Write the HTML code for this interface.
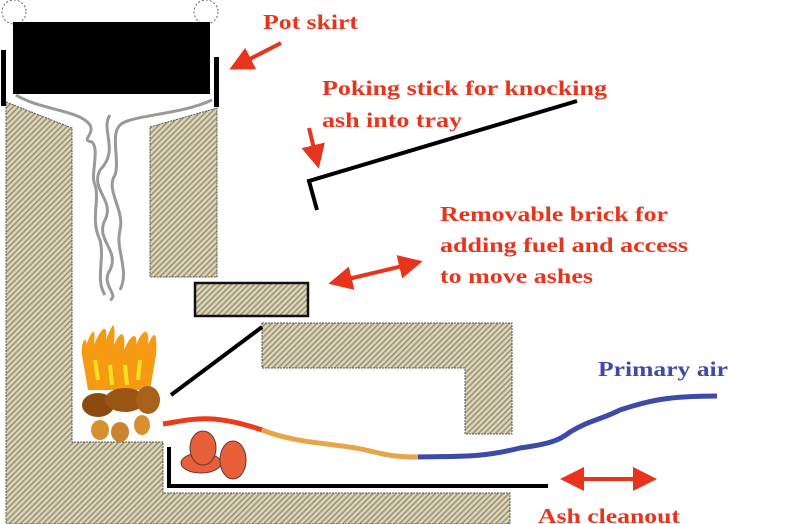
<!DOCTYPE html>
<html><head><meta charset="utf-8"><style>
html,body{margin:0;padding:0;background:#fff;width:800px;height:524px;overflow:hidden}
text{font-family:"Liberation Serif",serif;font-weight:bold;font-size:21px}
</style></head><body>
<svg width="800" height="524" viewBox="0 0 800 524" xmlns="http://www.w3.org/2000/svg">
<defs>
<pattern id="h" width="4" height="4" patternUnits="userSpaceOnUse" patternTransform="rotate(45)">
<rect width="4" height="4" fill="#ddd6b8"/><rect width="1.6" height="4" fill="#9a9278"/>
</pattern>
<marker id="a" markerWidth="6" markerHeight="6" refX="3" refY="3" orient="auto" markerUnits="strokeWidth"><path d="M0,0 L6,3 L0,6 z" fill="#e8341c"/></marker>
<marker id="b" markerWidth="6" markerHeight="6" refX="3" refY="3" orient="auto-start-reverse" markerUnits="strokeWidth"><path d="M0,0 L6,3 L0,6 z" fill="#e8341c"/></marker>
</defs>
<path d="M6,102 L72,128 L72,442 L163,442 L163,493 L510,493 L510,524 L6,524 Z" fill="url(#h)" stroke="#555" stroke-width="1" stroke-dasharray="2,1"/>
<path d="M150,127 L217,108 L217,277 L150,277 Z" fill="url(#h)" stroke="#555" stroke-width="1" stroke-dasharray="2,1"/>
<rect x="195" y="283" width="113" height="33" fill="url(#h)" stroke="#111" stroke-width="2.5"/>
<path d="M262,323 L512,323 L512,434 L465,434 L465,368 L262,368 Z" fill="url(#h)" stroke="#555" stroke-width="1" stroke-dasharray="2,1"/>
<circle cx="14" cy="12" r="12" fill="none" stroke="#666" stroke-dasharray="2,2"/>
<circle cx="206" cy="12" r="12" fill="none" stroke="#666" stroke-dasharray="2,2"/>
<rect x="13" y="22" width="197" height="72" fill="#000"/>
<rect x="1" y="50" width="5" height="56" fill="#000"/>
<rect x="214" y="57" width="5" height="50" fill="#000"/>
<g fill="none" stroke="#999" stroke-width="3">
<path d="M16,95 C40,110 80,110 90,125 C95,135 80,140 92,142 C100,150 90,175 95,185 C100,200 90,220 100,240 C105,260 95,280 105,295"/>
<path d="M212,100 C180,115 130,115 120,125 C110,135 120,160 115,175 C105,190 125,210 120,230 C115,250 130,270 120,290"/>
<path d="M110,115 C100,130 120,150 100,170 C90,190 115,200 105,220 C95,240 120,250 110,270 C100,285 120,295 110,300"/>
</g>
<g>
<path d="M82,355 C80,340 88,335 86,345 C92,330 96,325 94,345 C100,330 108,320 106,340 C112,325 116,315 114,345 C120,330 126,330 124,350 C130,335 138,330 136,345 C142,330 150,325 148,345 C152,335 158,325 156,355 L150,390 L88,390 Z" fill="#f59a12"/>
<path d="M95,360 L98,380 M110,365 L112,385 M125,365 L127,385 M140,360 L138,380" stroke="#ffe020" stroke-width="4"/>
<ellipse cx="98" cy="405" rx="16" ry="12" fill="#8a4a10"/>
<ellipse cx="125" cy="400" rx="20" ry="12" fill="#9a5514"/>
<ellipse cx="148" cy="400" rx="12" ry="14" fill="#a8621c"/>
<ellipse cx="100" cy="430" rx="9" ry="10" fill="#d8902f"/>
<ellipse cx="120" cy="432" rx="9" ry="10" fill="#c98530"/>
<ellipse cx="142" cy="425" rx="8" ry="10" fill="#d8902f"/>
</g>
<ellipse cx="201" cy="463" rx="20" ry="10" fill="#e8603a" stroke="#633" stroke-width="1"/>
<ellipse cx="203" cy="448" rx="13" ry="17" fill="#e8603a" stroke="#633" stroke-width="1"/>
<ellipse cx="233" cy="460" rx="13" ry="19" fill="#e8603a" stroke="#633" stroke-width="1"/>
<path d="M171,395 L262,327" stroke="#000" stroke-width="4"/>
<path d="M169,447 L169,486 L548,486" fill="none" stroke="#000" stroke-width="4"/>
<path d="M577,101 L309,181 L317,210" fill="none" stroke="#000" stroke-width="4"/>
<path d="M163,424 C190,420 210,412 262,430" fill="none" stroke="#ee3a1c" stroke-width="5"/>
<path d="M262,430 C300,445 340,443 370,451 C390,456 400,457 418,457" fill="none" stroke="#e6a548" stroke-width="5"/>
<path d="M418,457 C460,456 480,458 520,448 C550,444 560,440 570,432 C590,420 600,420 620,410 C650,400 670,396 717,396" fill="none" stroke="#3c4aa8" stroke-width="5"/>
<path d="M281,43 L240,64" stroke="#e8341c" stroke-width="4" marker-end="url(#a)"/>
<path d="M309,128 L316,157" stroke="#e8341c" stroke-width="4" marker-end="url(#a)"/>
<path d="M340,281 L411,264" stroke="#e8341c" stroke-width="4" marker-start="url(#b)" marker-end="url(#a)"/>
<path d="M572,479 L645,479" stroke="#e8341c" stroke-width="4" marker-start="url(#b)" marker-end="url(#a)"/>
<g fill="#e8341c">
<text x="263" y="29" textLength="95" lengthAdjust="spacingAndGlyphs">Pot skirt</text>
<text x="322" y="95" textLength="285" lengthAdjust="spacingAndGlyphs">Poking stick for knocking</text>
<text x="322" y="127" textLength="140" lengthAdjust="spacingAndGlyphs">ash into tray</text>
<text x="440" y="221" textLength="228" lengthAdjust="spacingAndGlyphs">Removable brick for</text>
<text x="440" y="252" textLength="248" lengthAdjust="spacingAndGlyphs">adding fuel and access</text>
<text x="440" y="283" textLength="153" lengthAdjust="spacingAndGlyphs">to move ashes</text>
<text x="538" y="523" textLength="142" lengthAdjust="spacingAndGlyphs">Ash cleanout</text>
</g>
<text x="598" y="376" fill="#3c4aa8" textLength="130" lengthAdjust="spacingAndGlyphs">Primary air</text>
</svg>
</body></html>
